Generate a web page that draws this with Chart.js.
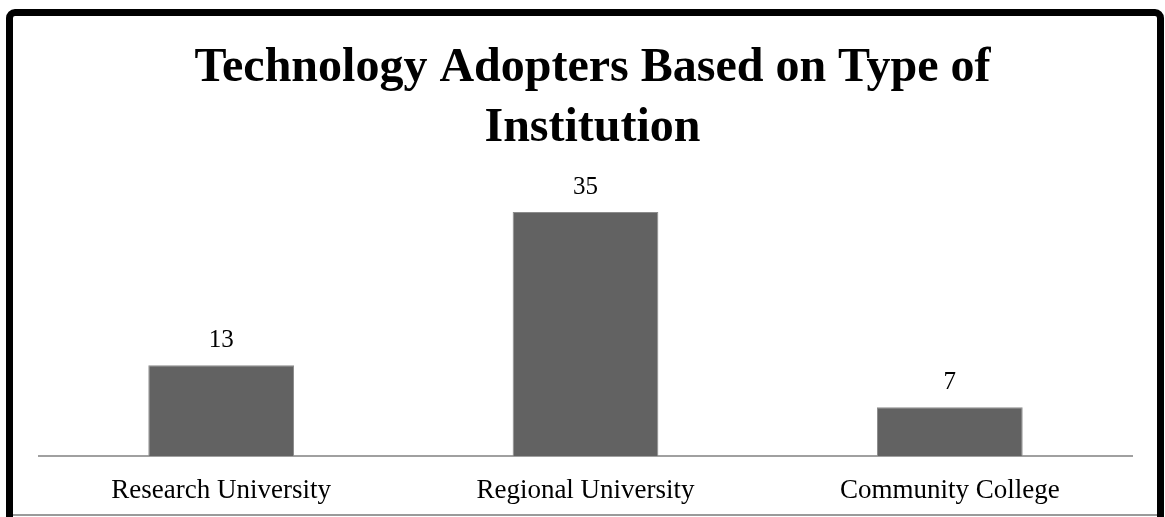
<!DOCTYPE html>
<html>
<head>
<meta charset="utf-8">
<script src="https://cdn.jsdelivr.net/npm/chart.js@4/dist/chart.umd.min.js"></script>
<style>
  html, body { margin: 0; padding: 0; background: #fff; }
  #wrap { position: relative; width: 1165px; height: 517px; overflow: hidden; background: #fff; }
  #myChart { position: absolute; left: 0; top: 0; }
  #frame {
    position: absolute; left: 6px; top: 9px; width: 1144px; height: 600px;
    border: 7px solid #000; border-radius: 9px; pointer-events: none;
  }
  #bottomLine { position: absolute; left: 13px; top: 514px; width: 1144px; height: 2px; background: #9a9a9a; }
</style>
</head>
<body>
<div id="wrap">
  <canvas id="myChart" width="1165" height="517"></canvas>
  <div id="bottomLine"></div>
  <div id="frame"></div>
</div>
<script>
const categories = ["Research University", "Regional University", "Community College"];
const adopters = [13, 35, 7];
const titleLines = ["Technology Adopters Based on Type of", "Institution"];

const serif = "'Times New Roman', 'Liberation Serif', serif";

// draws the number above each bar
const barValues = {
  id: "barValues",
  afterLayout(chart) {
    // title sits a little right of centre in the original
    if (chart.titleBlock) chart.titleBlock.left += 14;
  },
  afterDatasetsDraw(chart) {
    const ctx = chart.ctx;
    ctx.save();
    ctx.fillStyle = "#000";
    ctx.font = "25px " + serif;
    ctx.textAlign = "center";
    ctx.textBaseline = "alphabetic";
    chart.getDatasetMeta(0).data.forEach((bar, i) => {
      ctx.fillText(chart.data.datasets[0].data[i], bar.x, bar.y - 18);
    });
    ctx.restore();
  }
};

let myChart = document.getElementById("myChart").getContext("2d");

let popChart = new Chart(myChart, {
  type: "bar",
  data: {
    labels: categories,
    datasets: [
      {
        label: "Adopters",
        data: adopters,
        backgroundColor: "#626262",
        borderColor: "#8c8c8c",
        borderWidth: 1,
        categoryPercentage: 1,
        barPercentage: 0.4
      }
    ]
  },
  options: {
    responsive: false,
    animation: false,
    layout: { padding: { top: 0, left: 39, right: 33, bottom: 0 } },
    scales: {
      x: {
        grid: { display: false },
        border: { display: true, color: "#a0a0a0", width: 2 },
        ticks: { color: "#000", padding: 11, font: { family: serif, size: 27 } },
        afterFit(scale) { scale.height = 61; }
      },
      y: { display: false, min: 0, max: 40 }
    },
    plugins: {
      legend: { display: false },
      tooltip: { enabled: false },
      title: {
        display: true,
        text: titleLines,
        color: "#000",
        padding: { top: 39, bottom: 18 },
        font: { family: serif, size: 48, weight: "bold", lineHeight: 1.25 }
      }
    }
  },
  plugins: [barValues]
});
</script>
</body>
</html>
